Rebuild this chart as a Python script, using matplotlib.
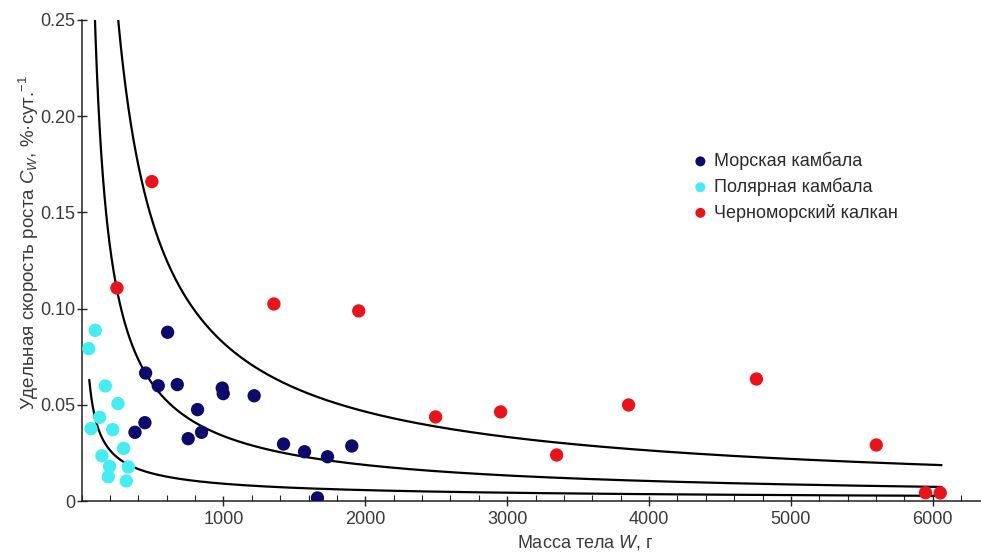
import numpy as np
import matplotlib
matplotlib.use("Agg")
import matplotlib.pyplot as plt
from matplotlib.ticker import MultipleLocator, FixedLocator

FONT = ['Liberation Sans', 'DejaVu Sans']
plt.rcParams['font.family'] = FONT
plt.rcParams['mathtext.fontset'] = 'custom'
plt.rcParams['mathtext.rm'] = 'Liberation Sans'
plt.rcParams['mathtext.it'] = 'Liberation Sans:italic'

# ---- data ----
series_names = ["Морская камбала", "Полярная камбала", "Черноморский калкан"]
series_colors = ["#0b0b6e", "#42eef2", "#e8141a"]

sea_w = [607, 452, 541, 675, 992, 999, 1217, 818, 447, 377, 752, 846,
         1424, 1572, 1734, 1905, 1663]
sea_c = [0.0877, 0.0665, 0.0599, 0.0605, 0.0587, 0.0558, 0.0547, 0.0475,
         0.0407, 0.0357, 0.0324, 0.0357, 0.0296, 0.0256, 0.0230, 0.0286, 0.0016]

polar_w = [97, 51, 168, 257, 128, 67, 220, 297, 144, 198, 330, 189, 316]
polar_c = [0.0887, 0.0792, 0.0598, 0.0506, 0.0435, 0.0376, 0.0371, 0.0274,
           0.0235, 0.0180, 0.0177, 0.0126, 0.0104]

turbot_w = [496, 250, 1356, 1954, 2496, 2954, 3349, 3856, 4757, 5602, 5949, 6053]
turbot_c = [0.166, 0.1107, 0.1024, 0.0988, 0.0437, 0.0463, 0.0239, 0.0499,
            0.0634, 0.0291, 0.0043, 0.0042]

# power-law curves C = a * W^b (coefficients)
curve_a = [0.92, 11.98, 24.2]
curve_b = [-0.67, -0.85, -0.823]
curve_w_start = [55, 80, 250]
curve_w_end = [6060, 6060, 6060]

x_ticks = [1000, 2000, 3000, 4000, 5000, 6000]
y_ticks = [0, 0.05, 0.10, 0.15, 0.20, 0.25]
y_tick_labels = ["0", "0.05", "0.10", "0.15", "0.20", "0.25"]

# ---- figure ----
fig = plt.figure(figsize=(9.81, 5.54), dpi=100)
ax = fig.add_axes([81.5 / 981, 53 / 554, (981 - 81.5) / 981, 481 / 554])

for a, b, w0, w1 in zip(curve_a, curve_b, curve_w_start, curve_w_end):
    w = np.geomspace(w0, w1, 400)
    ax.plot(w, a * w ** b, color="black", lw=1.6, zorder=2)

for w, c, name, col in zip([sea_w, polar_w, turbot_w], [sea_c, polar_c, turbot_c],
                           series_names, series_colors):
    ax.scatter(w, c, s=92, color=col, edgecolors='none', label=name, zorder=3)

ax.set_xlim(0, 6340)
ax.set_ylim(0, 0.25)
ax.spines['top'].set_visible(False)
ax.spines['right'].set_visible(False)
for s in ['left', 'bottom']:
    ax.spines[s].set_linewidth(1.1)
    ax.spines[s].set_color('#222222')

ax.xaxis.set_major_locator(FixedLocator(x_ticks))
ax.xaxis.set_minor_locator(MultipleLocator(200))
ax.set_yticks(y_ticks)
ax.set_yticklabels(y_tick_labels)
ax.tick_params(axis='both', which='major', direction='inout', length=7, width=1,
               labelsize=13, labelcolor='#3a3a3a', color='#222222')
ax.tick_params(axis='x', which='minor', direction='in', length=4, width=0.8, color='#222222')
ax.tick_params(axis='x', which='major', pad=4)
ax.tick_params(axis='y', which='major', pad=1)

ax.set_xlabel('Масса тела $W$, г', fontsize=13, color='#3a3a3a')
ax.xaxis.set_label_coords((585 - 81.5) / 899.5, -0.066)
ax.set_ylabel('Удельная скорость роста $C_W$, %·сут.$^{-1}$', fontsize=13.5, color='#3a3a3a')
ax.yaxis.set_label_coords(-0.045, (501 - 242) / 481)

leg = ax.legend(loc='upper left', bbox_to_anchor=(0.678, 0.726), frameon=False,
                fontsize=13, handlelength=1.0, handletextpad=0.25, labelspacing=0.42,
                markerscale=0.75, borderaxespad=0, borderpad=0)
for t in leg.get_texts():
    t.set_color('#2a2a2a')

fig.savefig("out.png", dpi=100)
